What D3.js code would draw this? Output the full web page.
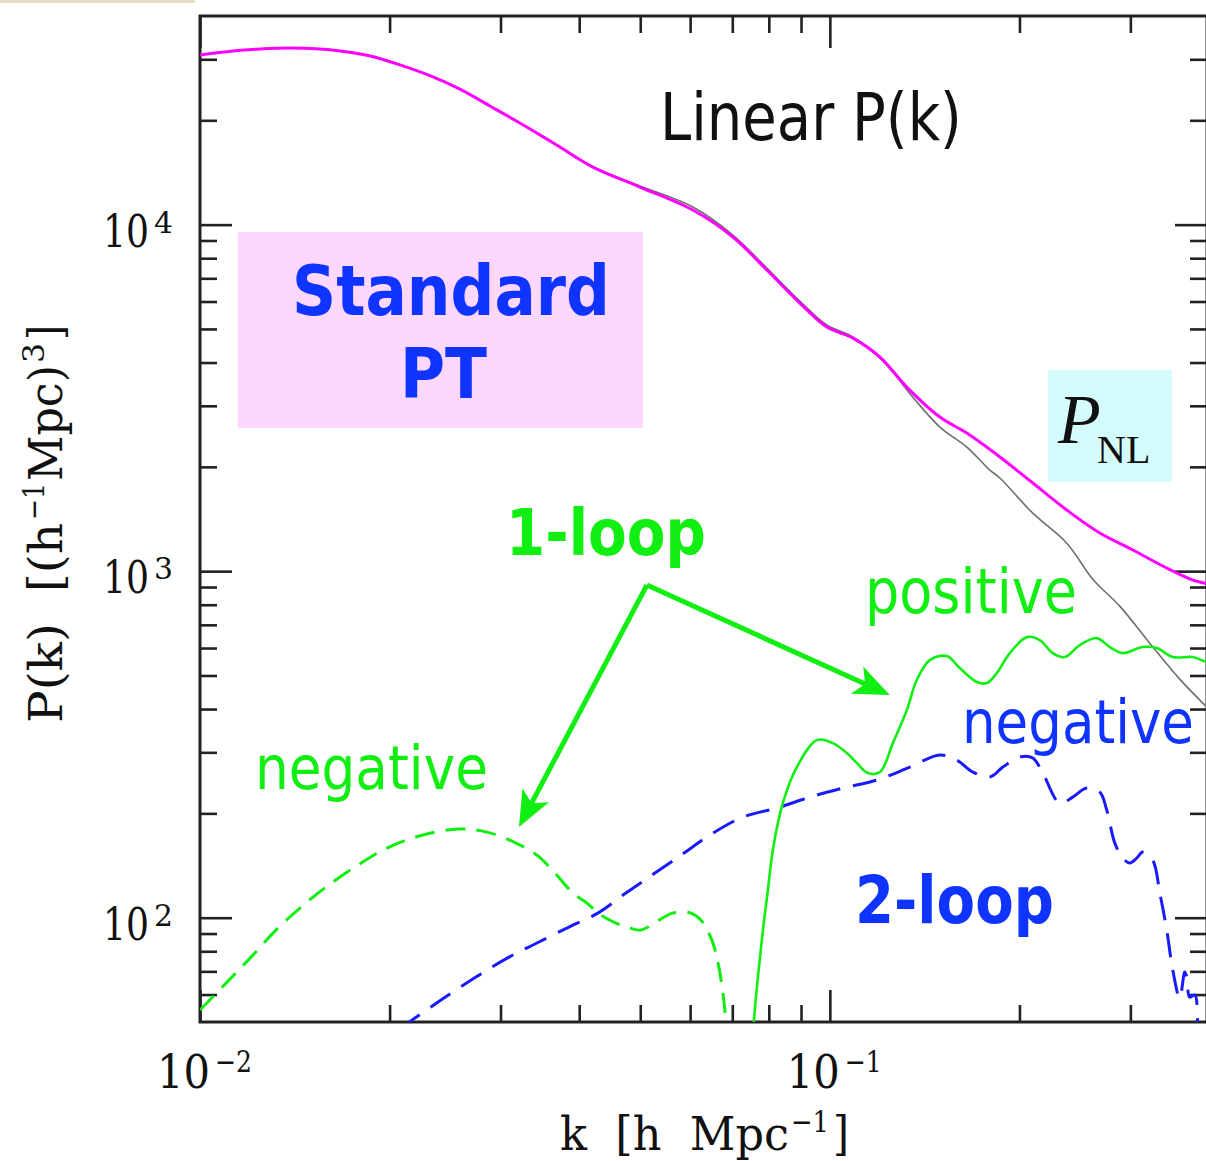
<!DOCTYPE html>
<html>
<head>
<meta charset="utf-8">
<script src="https://cdn.jsdelivr.net/npm/d3@7"></script>
<style>
  body { margin: 0; background: #fff; }
  svg { display: block; }
</style>
</head>
<body>
<script>
// ---- Power spectrum data: k in h/Mpc, P in (Mpc/h)^3 ----

// Non-linear P(k) (magenta)
const kNL = [0.0100, 0.01128, 0.01245, 0.01390, 0.01551, 0.01669, 0.01862, 0.02077, 0.02318, 0.02586,
  0.02886, 0.03220, 0.03528, 0.03727, 0.04205, 0.04993, 0.06061, 0.07015, 0.07943, 0.08960,
  0.09890, 0.1088, 0.1201, 0.1325, 0.1495, 0.1650, 0.1862, 0.2100, 0.2378, 0.2683,
  0.3027, 0.3426, 0.3769, 0.3925, 0.397];
const pNL = [30870, 31700, 32130, 32340, 32130, 31700, 30660, 28900, 26900, 24600,
  22000, 19650, 17800, 16750, 14660, 12840, 11020, 9210, 7396, 5938,
  5064, 4706, 4148, 3398, 2784, 2503, 2135, 1796, 1501, 1288,
  1151, 1021, 942.6, 924, 918];

// Linear P(k) (grey)
const kLin = [0.0100, 0.01128, 0.01245, 0.01390, 0.01551, 0.01669, 0.01862, 0.02077, 0.02318, 0.02586,
  0.02886, 0.03220, 0.03528, 0.03727, 0.04205, 0.04993, 0.06061, 0.07015, 0.07943, 0.08960,
  0.09890, 0.1088, 0.1201, 0.1259, 0.1354, 0.1495, 0.1650, 0.1795, 0.1862, 0.2100,
  0.2378, 0.2615, 0.2886, 0.3220, 0.3593, 0.3925, 0.397];
const pLin = [30870, 31700, 32130, 32340, 32130, 31700, 30660, 28900, 26900, 24600,
  22000, 19650, 17800, 16750, 14660, 12930, 11240, 9333, 7494, 6018,
  5132, 4738, 4121, 3754, 3181, 2605, 2281, 1957, 1857, 1470,
  1204, 948, 792.6, 619.8, 487.9, 413.3, 405];

// 1-loop correction, positive part (solid green)
const kLoop1Pos = [0.07464, 0.07573, 0.07799, 0.07973, 0.08119, 0.08420, 0.08863, 0.09537, 0.1011, 0.1064,
  0.1104, 0.1149, 0.1201, 0.1259, 0.1325, 0.1374, 0.1441, 0.1533, 0.1608, 0.1711,
  0.1775, 0.1841, 0.1931, 0.2055, 0.2154, 0.2259, 0.2360, 0.2493, 0.2653, 0.2783,
  0.2918, 0.3139, 0.3304, 0.3503, 0.3769, 0.3925, 0.397];
const pLoop1Pos = [29.76, 49.96, 86.15, 120.1, 156.8, 214.1, 272.0, 325.4, 319.0, 298.5,
  279.4, 261.4, 263.2, 319.0, 397.2, 485.1, 553.9, 568.9, 525.2, 478.6,
  475.4, 508.1, 580.2, 645.1, 632.4, 580.2, 565.0, 611.8, 641.0, 603.9,
  580.2, 603.9, 599.9, 565.0, 565.0, 550.2, 548];

// 1-loop correction, negative part (dashed green)
const kLoop1Neg = [0.0100, 0.01100, 0.01205, 0.01320, 0.01447, 0.01585, 0.01762, 0.01981, 0.02259, 0.02577,
  0.02854, 0.03174, 0.03427, 0.03660, 0.03909, 0.04115, 0.04330, 0.04574, 0.04815, 0.05012,
  0.05354, 0.05631, 0.06015, 0.06240, 0.06497, 0.06665, 0.06838, 0.06888];
const pLoop1Neg = [54.13, 64.75, 76.95, 92.1, 107.3, 122.6, 140.0, 158.8, 173.2, 180.2,
  176.6, 164.2, 151.6, 134.5, 117.8, 110.2, 101.7, 96.47, 93.32, 92.1,
  98.4, 103.1, 103.1, 98.4, 86.15, 72.0, 50.6, 38.8];

// 2-loop correction, negative part (dashed blue)
const kLoop2Neg = [0.02077, 0.02147, 0.02413, 0.02742, 0.03094, 0.03427, 0.03852, 0.04281, 0.04745, 0.05277,
  0.05866, 0.06450, 0.07275, 0.08236, 0.09296, 0.1049, 0.1187, 0.1340, 0.1495, 0.1590,
  0.1687, 0.1795, 0.1882, 0.2002, 0.2100, 0.2178, 0.2318, 0.2430, 0.2558, 0.2683,
  0.2752, 0.2834, 0.2918, 0.2994, 0.3071, 0.3139, 0.3256, 0.3341, 0.3427, 0.3503,
  0.3593, 0.3660, 0.3687, 0.3727, 0.3797, 0.3838, 0.3866];
const pLoop2Neg = [48.0, 49.96, 57.85, 67.4, 76.97, 84.5, 93.96, 103.1, 117.8, 134.5,
  153.6, 173.2, 195.1, 207.2, 222.8, 236.6, 249.5, 272.0, 294.6, 285.0,
  263.2, 254.6, 272.0, 290.7, 288.8, 261.4, 214.1, 222.8, 236.6, 230.4,
  204.4, 164.2, 148.6, 143.8, 148.6, 154.6, 146.6, 117.8, 92.1, 70.6,
  58.6, 69.7, 67.4, 59.0, 59.8, 49.6, 41.5];

// Axis ticks and labels
const xMajorTicks = [0.01, 0.1];
const xMinorTicks = [0.02, 0.03, 0.04, 0.05, 0.06, 0.07, 0.08, 0.09, 0.2, 0.3];
const xTickExponents = ["\u22122", "\u22121"];
const yMajorTicks = [100, 1000, 10000];
const yMinorTicks = [60, 70, 80, 90, 200, 300, 400, 500, 600, 700, 800, 900,
  2000, 3000, 4000, 5000, 6000, 7000, 8000, 9000, 20000, 30000];
const yTickExponents = ["2", "3", "4"];
const xDomain = [0.01, 0.397];
const yDomain = [50, 40000];

// ---- Layout ----
const width = 1206, height = 1161;
const frame = { left: 200, right: 1207, top: 16, bottom: 1022 };
const axisColor = "#222";
const green = "#11ee11";
const blue = "#1034ff";
const serif = "'DejaVu Serif', serif";
const sans = "'DejaVu Sans', Verdana, sans-serif";

const svg = d3.select("body").append("svg")
  .attr("width", width).attr("height", height)
  .attr("viewBox", `0 0 ${width} ${height}`);

svg.append("rect").attr("width", width).attr("height", height).attr("fill", "#fff");
// thin beige strip along the top-left edge
svg.append("rect").attr("x", 0).attr("y", 0).attr("width", 195).attr("height", 3).attr("fill", "#e4dccb");

const x = d3.scaleLog().domain(xDomain).range([frame.left, frame.right]);
const y = d3.scaleLog().domain(yDomain).range([frame.bottom, frame.top]);

// Label boxes behind the curves
svg.append("rect").attr("x", 238).attr("y", 232).attr("width", 405).attr("height", 196).attr("fill", "#fdd7fd");
svg.append("rect").attr("x", 1048).attr("y", 370).attr("width", 124).attr("height", 112).attr("fill", "#d5fcfd");

// Ticks (inside the frame, on all four sides)
function styleTicks(g) {
  g.select(".domain").remove();
  g.selectAll(".tick line").attr("stroke", axisColor).attr("stroke-width", 2.6);
  g.selectAll(".tick text").remove();
}
[{ vals: xMinorTicks, len: 17 }, { vals: xMajorTicks, len: 32 }].forEach(t => {
  svg.append("g").attr("transform", `translate(0,${frame.bottom})`)
    .call(d3.axisBottom(x).tickValues(t.vals).tickSize(-t.len).tickFormat("")).call(styleTicks);
  svg.append("g").attr("transform", `translate(0,${frame.top})`)
    .call(d3.axisTop(x).tickValues(t.vals).tickSize(-t.len).tickFormat("")).call(styleTicks);
});
[{ vals: yMinorTicks, len: 17 }, { vals: yMajorTicks, len: 32 }].forEach(t => {
  svg.append("g").attr("transform", `translate(${frame.left},0)`)
    .call(d3.axisLeft(y).tickValues(t.vals).tickSize(-t.len).tickFormat("")).call(styleTicks);
  svg.append("g").attr("transform", `translate(${frame.right},0)`)
    .call(d3.axisRight(y).tickValues(t.vals).tickSize(-t.len).tickFormat("")).call(styleTicks);
});

// Frame
svg.append("rect")
  .attr("x", frame.left).attr("y", frame.top)
  .attr("width", frame.right - frame.left).attr("height", frame.bottom - frame.top)
  .attr("fill", "none").attr("stroke", axisColor).attr("stroke-width", 3);

// Text piece squeezed horizontally to a given length, starting at (px, py)
function fitted(txt, px, py, len, opts) {
  const t = svg.append("text").text(txt)
    .attr("font-family", opts.family || serif)
    .attr("font-size", opts.size)
    .attr("font-weight", opts.weight || "normal")
    .attr("fill", opts.color || "#111")
    .attr("style", "white-space:pre");
  const natural = t.node().getComputedTextLength();
  const rot = opts.rotate ? ` rotate(${opts.rotate})` : "";
  t.attr("transform", `translate(${px},${py})${rot} scale(${len / natural},1)`);
  return t;
}

// Tick labels: 10^n (base and exponent as separate pieces)
xMajorTicks.forEach((v, i) => {
  const px = x(v);
  fitted("10", px - 43, frame.bottom + 66, 53, { size: 46 });
  fitted(xTickExponents[i], px + 15, frame.bottom + 50, 37, { size: 30 });
});
yMajorTicks.forEach((v, i) => {
  const py = y(v);
  fitted("10", 103, py + 22, 46, { size: 45 });
  fitted(yTickExponents[i], 154, py + 8, 19, { size: 30 });
});

// Axis titles
const xTitleBase = 1150;
fitted("k  [h  Mpc", 560, xTitleBase, 229, { size: 47 });
fitted("\u22121", 791, xTitleBase - 18, 38, { size: 30 });
fitted("]", 833, xTitleBase, 16, { size: 47 });

const yTitleBase = 62;
const yTitle = [
  { txt: "P(k)  [(h", from: 723, len: 200, size: 47, shift: 0 },
  { txt: "\u22121", from: 520, len: 37, size: 30, shift: -18 },
  { txt: "Mpc)", from: 481, len: 116, size: 47, shift: 0 },
  { txt: "3", from: 363, len: 20, size: 30, shift: -18 },
  { txt: "]", from: 340, len: 15, size: 47, shift: 0 }
];
yTitle.forEach(p => {
  fitted(p.txt, yTitleBase + p.shift, p.from, p.len, { size: p.size, rotate: -90 });
});

// ---- Curves ----
svg.append("clipPath").attr("id", "plot-clip")
  .append("rect").attr("x", frame.left).attr("y", frame.top)
  .attr("width", frame.right - frame.left).attr("height", frame.bottom - frame.top);
const plot = svg.append("g").attr("clip-path", "url(#plot-clip)");

const line = d3.line()
  .x(d => x(d[0])).y(d => y(d[1]))
  .curve(d3.curveCatmullRom.alpha(0.5));
const zip = (ks, ps) => ks.map((k, i) => [k, ps[i]]);

const series = [
  { k: kLin, p: pLin, color: "#6f6f6f", width: 1.6, dash: null },
  { k: kNL, p: pNL, color: "#ff00ff", width: 3, dash: null },
  { k: kLoop1Neg, p: pLoop1Neg, color: green, width: 3, dash: "20,11" },
  { k: kLoop2Neg, p: pLoop2Neg, color: "#1a1aff", width: 3, dash: "24,13" },
  { k: kLoop1Pos, p: pLoop1Pos, color: green, width: 2.6, dash: null }
];
series.forEach(s => {
  plot.append("path")
    .datum(zip(s.k, s.p))
    .attr("d", line)
    .attr("fill", "none")
    .attr("stroke", s.color)
    .attr("stroke-width", s.width)
    .attr("stroke-linejoin", "round")
    .attr("stroke-dasharray", s.dash);
});

// ---- Annotations ----
const ann = (txt, px, py, size, color, weight, len) =>
  fitted(txt, px, py, len, { family: sans, size, color, weight });
ann("Linear P(k)", 660, 140, 66, "#111", "normal", 302);
ann("Standard", 292, 315, 70, blue, "bold", 318);
ann("PT", 400, 398, 70, blue, "bold", 87);
ann("1-loop", 506, 555, 64, green, "bold", 200);
ann("positive", 865, 613, 62, green, "normal", 212);
ann("negative", 962, 743, 60, blue, "normal", 232);
ann("negative", 255, 789, 60, green, "normal", 233);
ann("2-loop", 855, 923, 66, blue, "bold", 199);

// P_NL in the cyan box
const nlFont = "'Liberation Serif', 'Times New Roman', serif";
svg.append("text").attr("x", 1058).attr("y", 443).attr("font-family", nlFont)
  .attr("font-size", 70).attr("font-style", "italic").attr("fill", "#111").text("P");
svg.append("text").attr("x", 1097).attr("y", 463).attr("font-family", nlFont)
  .attr("font-size", 40).attr("fill", "#111").text("NL");

// Arrows from the "1-loop" label to the two parts of the 1-loop curve
const arrowFrom = [0.05123, 911.7];
const arrowTips = [[0.03209, 182.6], [0.1245, 439.0]];
arrowTips.forEach(tip => {
  const x0 = x(arrowFrom[0]), y0 = y(arrowFrom[1]);
  const x1 = x(tip[0]), y1 = y(tip[1]);
  const dx = x1 - x0, dy = y1 - y0, L = Math.hypot(dx, dy);
  const ux = dx / L, uy = dy / L, nx = -uy, ny = ux;
  const headLen = 36, halfW = 15, notch = 9;
  const bx = x1 - headLen * ux, by = y1 - headLen * uy;
  const nxp = bx + notch * ux, nyp = by + notch * uy;
  svg.append("line")
    .attr("x1", x0).attr("y1", y0).attr("x2", nxp).attr("y2", nyp)
    .attr("stroke", green).attr("stroke-width", 5);
  svg.append("path")
    .attr("d", `M${x1},${y1} L${bx + halfW * nx},${by + halfW * ny} L${nxp},${nyp} L${bx - halfW * nx},${by - halfW * ny} Z`)
    .attr("fill", green);
});
</script>
</body>
</html>
